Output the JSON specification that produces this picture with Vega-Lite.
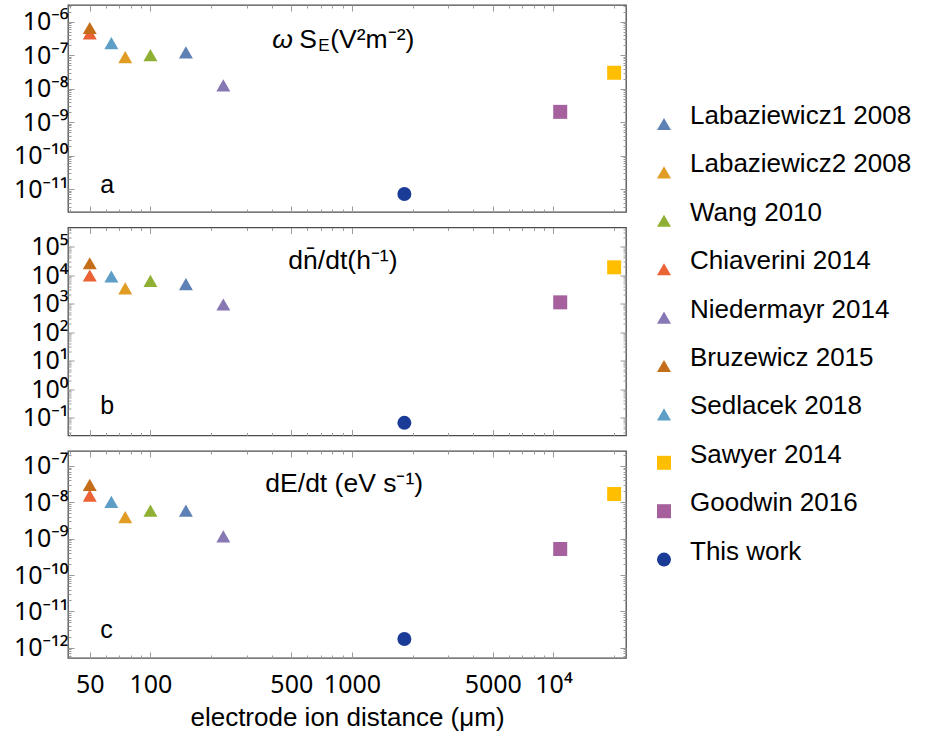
{
  "$schema": "https://vega.github.io/schema/vega-lite/v6.json",
  "padding": {"left": 12, "top": 3, "right": 5, "bottom": 5},
  "background": "white",
  "config": {
    "font": "Liberation Sans",
    "view": {"stroke": "#4d4d4d", "strokeWidth": 1.3},
    "axis": {"domain": false, "grid": false, "labelFont": "Noto Sans", "labelColor": "#000", "tickColor": "#9a9a9a", "tickWidth": 1, "labelOverlap": false, "labelFlush": false, "titleFont": "Liberation Sans", "titleFontWeight": "normal", "titleColor": "#000"},
    "legend": {"padding": 0, "labelFont": "Liberation Sans", "labelFontSize": 26, "labelColor": "#000", "labelOffset": 13, "rowPadding": 20.4, "symbolStrokeWidth": 0, "labelBaseline": "alphabetic", "labelLimit": 400},
    "concat": {"spacing": 11.5}
  },
  "data": {"values": [
    {"source": "Labaziewicz1 2008", "d": 150, "S": 1.22e-7, "n": 4800, "E": 5.9e-9},
    {"source": "Labaziewicz2 2008", "d": 75, "S": 8.8e-8, "n": 3400, "E": 3.9e-9},
    {"source": "Wang 2010", "d": 100, "S": 1.01e-7, "n": 6200, "E": 5.9e-9},
    {"source": "Chiaverini 2014", "d": 50, "S": 4.5e-7, "n": 9600, "E": 1.52e-8},
    {"source": "Niedermayr 2014", "d": 230, "S": 1.26e-8, "n": 920, "E": 1.16e-9},
    {"source": "Bruzewicz 2015", "d": 50, "S": 6.5e-7, "n": 26000, "E": 3.0e-8},
    {"source": "Sedlacek 2018", "d": 64, "S": 2.3e-7, "n": 8900, "E": 1.03e-8},
    {"source": "Sawyer 2014", "d": 20000, "S": 3.0e-8, "n": 18600, "E": 1.69e-8},
    {"source": "Goodwin 2016", "d": 10800, "S": 2.04e-9, "n": 1100, "E": 5.2e-10},
    {"source": "This work", "d": 1820, "S": 7.2e-12, "n": 0.065, "E": 1.74e-12}
  ]},
  "vconcat": [
    {
      "width": 558, "height": 207,
      "layer": [
        {
          "mark": {"type": "point", "filled": true, "opacity": 1},
          "encoding": {
            "x": {"field": "d", "type": "quantitative", "scale": {"type": "log", "domain": [39, 22900], "nice": false}, "axis": {"orient": "bottom", "labels": false, "title": null, "tickCount": 50, "tickSize": {"condition": {"test": "indexof([50,100,500,1000,5000,10000], datum.value) >= 0", "value": -6}, "value": -3}}},
            "y": {"field": "S", "type": "quantitative", "scale": {"type": "log", "domain": [2.09e-12, 3.16e-6], "nice": false}, "axis": {"orient": "left", "title": null, "tickCount": 60, "labelPadding": 6, "labelFontSize": {"condition": {"test": "abs(log(datum.value)/LN10 - round(log(datum.value)/LN10)) < 1e-6", "value": 25}, "value": 0}, "labelExpr": "abs(log(datum.value)/LN10 - round(log(datum.value)/LN10)) < 1e-6 ? ('10' + (datum.value < 1 ? '⁻' : '') + (abs(round(log(datum.value)/LN10)) >= 10 ? '¹' : '') + ['⁰','¹','²','³','⁴','⁵','⁶','⁷','⁸','⁹'][abs(round(log(datum.value)/LN10)) % 10]) : ''", "tickSize": {"condition": {"test": "abs(log(datum.value)/LN10 - round(log(datum.value)/LN10)) < 1e-6", "value": -6}, "value": -3}}},
            "color": {"field": "source", "type": "nominal", "scale": {"domain": ["Labaziewicz1 2008", "Labaziewicz2 2008", "Wang 2010", "Chiaverini 2014", "Niedermayr 2014", "Bruzewicz 2015", "Sedlacek 2018", "Sawyer 2014", "Goodwin 2016", "This work"], "range": ["#5E81B5", "#E19C24", "#8FB032", "#EB6235", "#8778B3", "#C56E1A", "#5D9EC7", "#FFBF00", "#A5609D", "#1B3C96"]}, "legend": {"title": null, "orient": "none", "legendX": 583, "legendY": 106}},
            "shape": {"field": "source", "type": "nominal", "scale": {"domain": ["Labaziewicz1 2008", "Labaziewicz2 2008", "Wang 2010", "Chiaverini 2014", "Niedermayr 2014", "Bruzewicz 2015", "Sedlacek 2018", "Sawyer 2014", "Goodwin 2016", "This work"], "range": ["triangle-up", "triangle-up", "triangle-up", "triangle-up", "triangle-up", "triangle-up", "triangle-up", "square", "square", "circle"]}, "legend": {"title": null, "orient": "none", "legendX": 583, "legendY": 106}},
            "size": {"field": "source", "type": "nominal", "scale": {"domain": ["Labaziewicz1 2008", "Labaziewicz2 2008", "Wang 2010", "Chiaverini 2014", "Niedermayr 2014", "Bruzewicz 2015", "Sedlacek 2018", "Sawyer 2014", "Goodwin 2016", "This work"], "range": [196, 196, 196, 196, 196, 196, 196, 137, 137, 289]}, "legend": {"title": null, "orient": "none", "legendX": 583, "legendY": 106}}
          }
        },
        {
          "data": {"values": [{}]},
          "mark": {"type": "text", "align": "left", "baseline": "alphabetic", "fontSize": 26.5, "fontStyle": "italic", "font": "Liberation Sans"},
          "encoding": {
            "x": {"datum": 402.5, "type": "quantitative", "axis": {"orient": "top", "labels": false, "title": null, "tickCount": 50, "tickSize": {"condition": {"test": "indexof([50,100,500,1000,5000,10000], datum.value) >= 0", "value": -6}, "value": -3}}},
            "y": {"datum": 1.61e-7, "type": "quantitative", "axis": {"orient": "right", "labels": false, "title": null, "tickCount": 60, "tickSize": {"condition": {"test": "abs(log(datum.value)/LN10 - round(log(datum.value)/LN10)) < 1e-6", "value": -6}, "value": -3}}},
            "text": {"value": "ω"}
          }
        },
        {
          "data": {"values": [{}]},
          "mark": {"type": "text", "align": "left", "baseline": "alphabetic", "fontSize": 26.5, "font": "Liberation Sans", "dx": 27},
          "encoding": {
            "x": {"datum": 402.5, "type": "quantitative", "axis": null},
            "y": {"datum": 1.61e-7, "type": "quantitative", "axis": null},
            "text": {"value": "S"}
          }
        },
        {
          "data": {"values": [{}]},
          "mark": {"type": "text", "align": "left", "baseline": "alphabetic", "fontSize": 17, "font": "Liberation Sans", "dx": 46, "dy": 3},
          "encoding": {
            "x": {"datum": 402.5, "type": "quantitative", "axis": null},
            "y": {"datum": 1.61e-7, "type": "quantitative", "axis": null},
            "text": {"value": "E"}
          }
        },
        {
          "data": {"values": [{}]},
          "mark": {"type": "text", "align": "left", "baseline": "alphabetic", "fontSize": 26.5, "font": "Liberation Sans", "dx": 58},
          "encoding": {
            "x": {"datum": 402.5, "type": "quantitative", "axis": null},
            "y": {"datum": 1.61e-7, "type": "quantitative", "axis": null},
            "text": {"value": "(V²m⁻²)"}
          }
        },
        {
          "data": {"values": [{}]},
          "mark": {"type": "text", "align": "left", "baseline": "alphabetic", "fontSize": 25, "font": "Liberation Sans"},
          "encoding": {
            "x": {"datum": 56.4, "type": "quantitative", "axis": null},
            "y": {"datum": 7.9e-12, "type": "quantitative", "axis": null},
            "text": {"value": "a"}
          }
        }
      ],
      "resolve": {"axis": {"x": "independent", "y": "independent"}}
    },
    {
      "width": 558, "height": 208,
      "layer": [
        {
          "mark": {"type": "point", "filled": true, "opacity": 1},
          "encoding": {
            "x": {"field": "d", "type": "quantitative", "scale": {"type": "log", "domain": [39, 22900], "nice": false}, "axis": {"orient": "bottom", "labels": false, "title": null, "tickCount": 50, "tickSize": {"condition": {"test": "indexof([50,100,500,1000,5000,10000], datum.value) >= 0", "value": -6}, "value": -3}}},
            "y": {"field": "n", "type": "quantitative", "scale": {"type": "log", "domain": [0.02344, 464500], "nice": false}, "axis": {"orient": "left", "title": null, "tickCount": 60, "labelPadding": 6, "labelFontSize": {"condition": {"test": "abs(log(datum.value)/LN10 - round(log(datum.value)/LN10)) < 1e-6", "value": 25}, "value": 0}, "labelExpr": "abs(log(datum.value)/LN10 - round(log(datum.value)/LN10)) < 1e-6 ? ('10' + (datum.value < 1 ? '⁻' : '') + (abs(round(log(datum.value)/LN10)) >= 10 ? '¹' : '') + ['⁰','¹','²','³','⁴','⁵','⁶','⁷','⁸','⁹'][abs(round(log(datum.value)/LN10)) % 10]) : ''", "tickSize": {"condition": {"test": "abs(log(datum.value)/LN10 - round(log(datum.value)/LN10)) < 1e-6", "value": -6}, "value": -3}}},
            "color": {"field": "source", "type": "nominal", "scale": {"domain": ["Labaziewicz1 2008", "Labaziewicz2 2008", "Wang 2010", "Chiaverini 2014", "Niedermayr 2014", "Bruzewicz 2015", "Sedlacek 2018", "Sawyer 2014", "Goodwin 2016", "This work"], "range": ["#5E81B5", "#E19C24", "#8FB032", "#EB6235", "#8778B3", "#C56E1A", "#5D9EC7", "#FFBF00", "#A5609D", "#1B3C96"]}, "legend": {"title": null, "orient": "none", "legendX": 583, "legendY": 106}},
            "shape": {"field": "source", "type": "nominal", "scale": {"domain": ["Labaziewicz1 2008", "Labaziewicz2 2008", "Wang 2010", "Chiaverini 2014", "Niedermayr 2014", "Bruzewicz 2015", "Sedlacek 2018", "Sawyer 2014", "Goodwin 2016", "This work"], "range": ["triangle-up", "triangle-up", "triangle-up", "triangle-up", "triangle-up", "triangle-up", "triangle-up", "square", "square", "circle"]}, "legend": {"title": null, "orient": "none", "legendX": 583, "legendY": 106}},
            "size": {"field": "source", "type": "nominal", "scale": {"domain": ["Labaziewicz1 2008", "Labaziewicz2 2008", "Wang 2010", "Chiaverini 2014", "Niedermayr 2014", "Bruzewicz 2015", "Sedlacek 2018", "Sawyer 2014", "Goodwin 2016", "This work"], "range": [196, 196, 196, 196, 196, 196, 196, 137, 137, 289]}, "legend": {"title": null, "orient": "none", "legendX": 583, "legendY": 106}}
          }
        },
        {
          "data": {"values": [{}]},
          "mark": {"type": "text", "align": "left", "baseline": "alphabetic", "fontSize": 26.5, "font": "Liberation Sans"},
          "encoding": {
            "x": {"datum": 483.6, "type": "quantitative", "axis": {"orient": "top", "labels": false, "title": null, "tickCount": 50, "tickSize": {"condition": {"test": "indexof([50,100,500,1000,5000,10000], datum.value) >= 0", "value": -6}, "value": -3}}},
            "y": {"datum": 16500, "type": "quantitative", "axis": {"orient": "right", "labels": false, "title": null, "tickCount": 60, "tickSize": {"condition": {"test": "abs(log(datum.value)/LN10 - round(log(datum.value)/LN10)) < 1e-6", "value": -6}, "value": -3}}},
            "text": {"value": "dn̄/dt(h⁻¹)"}
          }
        },
        {
          "data": {"values": [{}]},
          "mark": {"type": "text", "align": "left", "baseline": "alphabetic", "fontSize": 25, "font": "Liberation Sans"},
          "encoding": {
            "x": {"datum": 56.4, "type": "quantitative", "axis": null},
            "y": {"datum": 0.135, "type": "quantitative", "axis": null},
            "text": {"value": "b"}
          }
        }
      ],
      "resolve": {"axis": {"x": "independent", "y": "independent"}}
    },
    {
      "width": 558, "height": 207,
      "layer": [
        {
          "mark": {"type": "point", "filled": true, "opacity": 1},
          "encoding": {
            "x": {"field": "d", "type": "quantitative", "scale": {"type": "log", "domain": [39, 22900], "nice": false}, "axis": {"orient": "bottom", "title": "electrode ion distance (μm)", "titleFontSize": 26, "titlePadding": 7, "labelPadding": 20, "tickCount": 50, "labelFontSize": {"condition": {"test": "indexof([50,100,500,1000,5000,10000], datum.value) >= 0", "value": 25}, "value": 0}, "labelExpr": "datum.value == 10000 ? '10⁴' : (indexof([50,100,500,1000,5000], datum.value) >= 0 ? '' + datum.value : '')", "tickSize": {"condition": {"test": "indexof([50,100,500,1000,5000,10000], datum.value) >= 0", "value": -6}, "value": -3}}},
            "y": {"field": "E", "type": "quantitative", "scale": {"type": "log", "domain": [5.25e-13, 2.57e-7], "nice": false}, "axis": {"orient": "left", "title": null, "tickCount": 60, "labelPadding": 6, "labelFontSize": {"condition": {"test": "abs(log(datum.value)/LN10 - round(log(datum.value)/LN10)) < 1e-6", "value": 25}, "value": 0}, "labelExpr": "abs(log(datum.value)/LN10 - round(log(datum.value)/LN10)) < 1e-6 ? ('10' + (datum.value < 1 ? '⁻' : '') + (abs(round(log(datum.value)/LN10)) >= 10 ? '¹' : '') + ['⁰','¹','²','³','⁴','⁵','⁶','⁷','⁸','⁹'][abs(round(log(datum.value)/LN10)) % 10]) : ''", "tickSize": {"condition": {"test": "abs(log(datum.value)/LN10 - round(log(datum.value)/LN10)) < 1e-6", "value": -6}, "value": -3}}},
            "color": {"field": "source", "type": "nominal", "scale": {"domain": ["Labaziewicz1 2008", "Labaziewicz2 2008", "Wang 2010", "Chiaverini 2014", "Niedermayr 2014", "Bruzewicz 2015", "Sedlacek 2018", "Sawyer 2014", "Goodwin 2016", "This work"], "range": ["#5E81B5", "#E19C24", "#8FB032", "#EB6235", "#8778B3", "#C56E1A", "#5D9EC7", "#FFBF00", "#A5609D", "#1B3C96"]}, "legend": {"title": null, "orient": "none", "legendX": 583, "legendY": 106}},
            "shape": {"field": "source", "type": "nominal", "scale": {"domain": ["Labaziewicz1 2008", "Labaziewicz2 2008", "Wang 2010", "Chiaverini 2014", "Niedermayr 2014", "Bruzewicz 2015", "Sedlacek 2018", "Sawyer 2014", "Goodwin 2016", "This work"], "range": ["triangle-up", "triangle-up", "triangle-up", "triangle-up", "triangle-up", "triangle-up", "triangle-up", "square", "square", "circle"]}, "legend": {"title": null, "orient": "none", "legendX": 583, "legendY": 106}},
            "size": {"field": "source", "type": "nominal", "scale": {"domain": ["Labaziewicz1 2008", "Labaziewicz2 2008", "Wang 2010", "Chiaverini 2014", "Niedermayr 2014", "Bruzewicz 2015", "Sedlacek 2018", "Sawyer 2014", "Goodwin 2016", "This work"], "range": [196, 196, 196, 196, 196, 196, 196, 137, 137, 289]}, "legend": {"title": null, "orient": "none", "legendX": 583, "legendY": 106}}
          }
        },
        {
          "data": {"values": [{}]},
          "mark": {"type": "text", "align": "left", "baseline": "alphabetic", "fontSize": 26.5, "font": "Liberation Sans"},
          "encoding": {
            "x": {"datum": 371.8, "type": "quantitative", "axis": {"orient": "top", "labels": false, "title": null, "tickCount": 50, "tickSize": {"condition": {"test": "indexof([50,100,500,1000,5000,10000], datum.value) >= 0", "value": -6}, "value": -3}}},
            "y": {"datum": 1.96e-8, "type": "quantitative", "axis": {"orient": "right", "labels": false, "title": null, "tickCount": 60, "tickSize": {"condition": {"test": "abs(log(datum.value)/LN10 - round(log(datum.value)/LN10)) < 1e-6", "value": -6}, "value": -3}}},
            "text": {"value": "dE/dt (eV s⁻¹)"}
          }
        },
        {
          "data": {"values": [{}]},
          "mark": {"type": "text", "align": "left", "baseline": "alphabetic", "fontSize": 25, "font": "Liberation Sans"},
          "encoding": {
            "x": {"datum": 56.4, "type": "quantitative", "axis": null},
            "y": {"datum": 1.91e-12, "type": "quantitative", "axis": null},
            "text": {"value": "c"}
          }
        }
      ],
      "resolve": {"axis": {"x": "independent", "y": "independent"}}
    }
  ],
  "resolve": {"scale": {"color": "shared", "shape": "shared", "size": "shared"}, "legend": {"color": "shared", "shape": "shared", "size": "shared"}}
}
